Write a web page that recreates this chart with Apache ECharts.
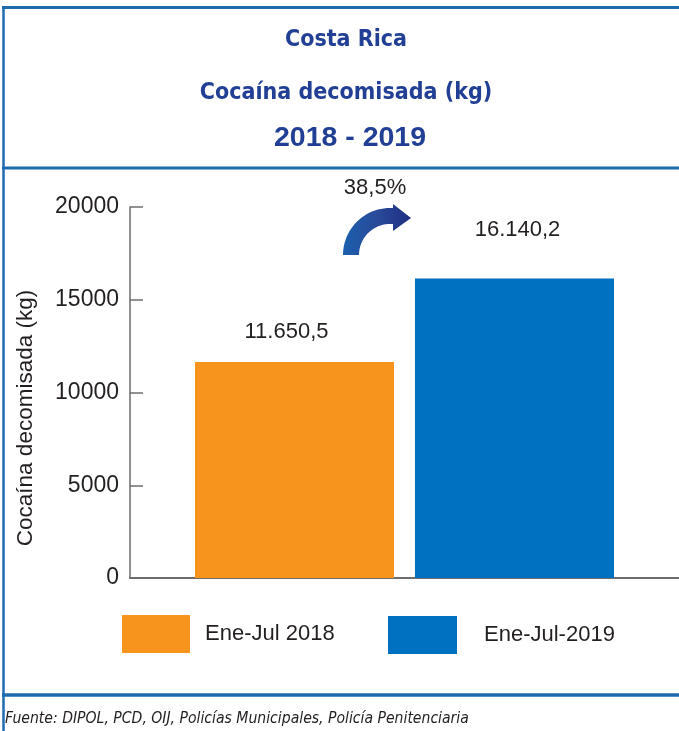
<!DOCTYPE html>
<html>
<head>
<meta charset="utf-8">
<script src="https://cdn.jsdelivr.net/npm/echarts@6/dist/echarts.min.js"></script>
<style>html,body{margin:0;padding:0;background:#fff;}#c{width:679px;height:731px;}</style>
</head>
<body>
<div id="c"></div>
<script>
const categories = ['Ene-Jul'];
const seriesNames = ['Ene-Jul 2018', 'Ene-Jul-2019'];
const values2018 = [11650.5];
const values2019 = [16140.2];
const yTicks = [0, 5000, 10000, 15000, 20000];
const changeLabel = '38,5%';
const titleLines = ['Costa Rica', 'Cocaína decomisada (kg)', '2018 - 2019'];
const yAxisName = 'Cocaína decomisada (kg)';
const sourceNote = 'Fuente: DIPOL, PCD, OIJ, Policías Municipales, Policía Penitenciaria';

const ORANGE = '#F7941D', BLUE = '#0070C0', TITLE = '#213F95', LINE = '#1E6BB0', TXT = '#231F20';
const BODY = "'Liberation Sans', Arial, sans-serif";
const COND = "'DejaVu Sans Condensed', 'Liberation Sans Narrow', sans-serif";

function fmt(v) {
  const parts = v.toFixed(1).split('.');
  return parts[0].replace(/\B(?=(\d{3})+(?!\d))/g, '.') + ',' + parts[1];
}

// decorative curved arrow outline (quarter ring + head)
function arrowPoints() {
  const cx = 390, cy = 255, ro = 47, ri = 31, pts = [];
  for (let i = 0; i <= 24; i++) {
    const a = Math.PI + (Math.PI / 2) * (i / 24);
    pts.push([cx + ro * Math.cos(a), cy + ro * Math.sin(a)]);
  }
  pts.push([393, cy - ro], [393, 204], [411, 218], [393, 231], [393, cy - ri]);
  for (let i = 24; i >= 0; i--) {
    const a = Math.PI + (Math.PI / 2) * (i / 24);
    pts.push([cx + ri * Math.cos(a), cy + ri * Math.sin(a)]);
  }
  return pts;
}

const chart = echarts.init(document.getElementById('c'), null, {renderer: 'canvas'});
chart.setOption({
  animation: false,
  backgroundColor: '#fff',
  grid: {left: 130, right: -2, top: 207, bottom: 153, containLabel: false},
  xAxis: {
    type: 'category', data: categories,
    axisLine: {show: true, lineStyle: {color: '#6d6d6d', width: 2}},
    axisTick: {show: false}, axisLabel: {show: false}, splitLine: {show: false}
  },
  yAxis: {
    type: 'value', min: yTicks[0], max: yTicks[yTicks.length - 1], interval: yTicks[1] - yTicks[0],
    axisLine: {show: true, lineStyle: {color: '#6d6d6d', width: 1.5}},
    axisTick: {show: true, inside: true, length: 13, lineStyle: {color: '#6d6d6d', width: 1.5}},
    axisLabel: {fontSize: 23, color: TXT, fontFamily: BODY, margin: 11, formatter: v => String(v)},
    splitLine: {show: false}
  },
  legend: [
    {data: [seriesNames[0]], left: 122, top: 615, padding: 0, itemWidth: 68, itemHeight: 38, icon: 'rect',
     textStyle: {fontSize: 22, color: TXT, fontFamily: BODY, padding: [7, 0, 0, 10]}},
    {data: [seriesNames[1]], left: 388, top: 616, padding: 0, itemWidth: 69, itemHeight: 38, icon: 'rect',
     textStyle: {fontSize: 22, color: TXT, fontFamily: BODY, padding: [7, 0, 0, 22]}}
  ],
  series: [
    {name: seriesNames[0], type: 'bar', barWidth: 199, barGap: '10.55%',
     itemStyle: {color: ORANGE},
     data: values2018.map(v => ({value: v, label: {show: true, position: 'top', distance: 19, offset: [-8, 0]}})),
     label: {fontSize: 22, color: TXT, fontFamily: BODY, formatter: p => fmt(p.value)}},
    {name: seriesNames[1], type: 'bar', barWidth: 199, barGap: '10.55%',
     itemStyle: {color: BLUE},
     data: values2019.map(v => ({value: v, label: {show: true, position: 'top', distance: 38, offset: [3, 0]}})),
     label: {fontSize: 22, color: TXT, fontFamily: BODY, formatter: p => fmt(p.value)}}
  ],
  graphic: [
    {type: 'line', shape: {x1: 2, y1: 7.5, x2: 690, y2: 7.5}, style: {stroke: LINE, lineWidth: 3}, silent: true},
    {type: 'line', shape: {x1: 3.5, y1: 6, x2: 3.5, y2: 731}, style: {stroke: LINE, lineWidth: 2.5}, silent: true},
    {type: 'line', shape: {x1: 2, y1: 168, x2: 690, y2: 168}, style: {stroke: LINE, lineWidth: 3}, silent: true},
    {type: 'line', shape: {x1: 2, y1: 695, x2: 690, y2: 695}, style: {stroke: LINE, lineWidth: 3.5}, silent: true},
    {type: 'text', style: {text: titleLines[0], x: 346, y: 40, textAlign: 'center', textVerticalAlign: 'middle',
      font: "bold 23px " + COND, fill: TITLE}},
    {type: 'text', style: {text: titleLines[1], x: 346, y: 93, textAlign: 'center', textVerticalAlign: 'middle',
      font: "bold 23px " + COND, fill: TITLE}},
    {type: 'text', style: {text: titleLines[2], x: 350, y: 138, textAlign: 'center', textVerticalAlign: 'middle',
      font: "bold 28.5px 'Liberation Sans', Arial, sans-serif", fill: TITLE}},
    {type: 'text', x: 26, y: 418, rotation: Math.PI / 2,
     style: {text: yAxisName, x: 0, y: 0, textAlign: 'center', textVerticalAlign: 'middle',
      font: "22.5px " + BODY, fill: TXT}},
    {type: 'text', style: {text: changeLabel, x: 375, y: 188, textAlign: 'center', textVerticalAlign: 'middle',
      font: "22px " + BODY, fill: TXT}},
    {type: 'polygon', shape: {points: arrowPoints()},
     style: {fill: {type: 'linear', x: 0, y: 0, x2: 1, y2: 0, colorStops: [
       {offset: 0, color: '#1b5fae'}, {offset: 0.5, color: '#2a4a9a'}, {offset: 1, color: '#1f2f82'}]}}},
    {type: 'text', style: {text: sourceNote, x: 5, y: 719, textAlign: 'left', textVerticalAlign: 'middle',
      font: "italic 15.6px " + COND, fill: TXT}}
  ]
});
</script>
</body>
</html>
